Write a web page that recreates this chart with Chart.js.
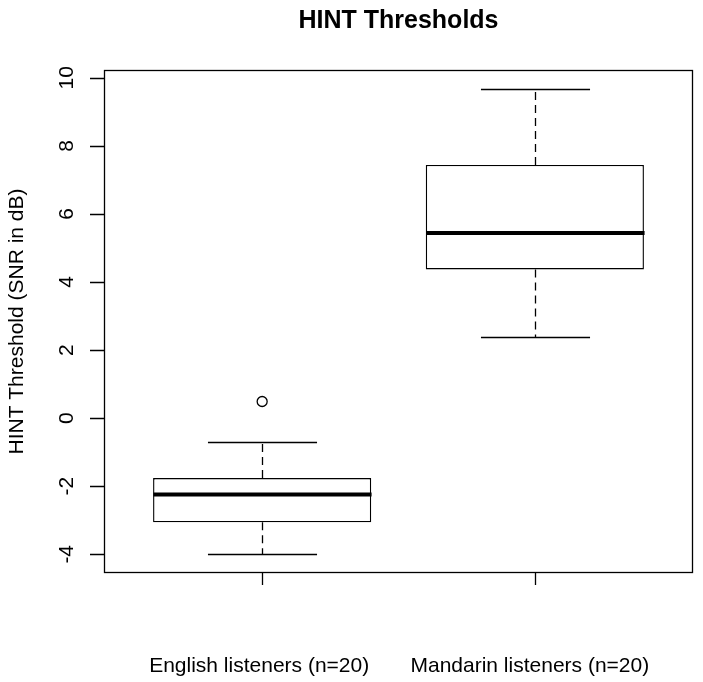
<!DOCTYPE html>
<html>
<head>
<meta charset="utf-8">
<title>HINT Thresholds</title>
<script src="https://cdn.jsdelivr.net/npm/chart.js@4/dist/chart.umd.min.js"></script>
<style>
  html, body { margin: 0; padding: 0; background: #fff; }
</style>
</head>
<body>
<canvas id="chart" width="703" height="682"></canvas>
<script>
// box statistics, one entry per group
const groups = ['English listeners (n=20)', 'Mandarin listeners (n=20)'];
const positions = [1, 2];
const whiskerLow = [-4.0, 2.38];
const q1 = [-3.06, 4.37];
const median = [-2.24, 5.44];
const q3 = [-1.76, 7.44];
const whiskerHigh = [-0.71, 9.68];
const outliers = [[0.49], []];
const yTicks = [-4, -2, 0, 2, 4, 6, 8, 10];

const FONT = '"Liberation Sans", Arial, Helvetica, sans-serif';

// R-style box plot pieces that Chart.js has no element for
const boxPlotR = {
  id: 'boxPlotR',
  afterDatasetsDraw(chart) {
    const { ctx, chartArea: a, scales: { x, y } } = chart;
    const halfBox = (x.getPixelForValue(1.4) - x.getPixelForValue(0.6)) / 2;
    const halfCap = halfBox / 2;
    ctx.save();
    ctx.strokeStyle = '#000';

    positions.forEach((p, i) => {
      const cx = Math.round(x.getPixelForValue(p)) + 0.5;
      // dashed whiskers
      ctx.lineWidth = 1.3;
      ctx.setLineDash([8, 5]);
      ctx.beginPath();
      ctx.moveTo(cx, y.getPixelForValue(q3[i]));
      ctx.lineTo(cx, y.getPixelForValue(whiskerHigh[i]));
      ctx.moveTo(cx, y.getPixelForValue(q1[i]));
      ctx.lineTo(cx, y.getPixelForValue(whiskerLow[i]));
      ctx.stroke();
      ctx.setLineDash([]);
      // staples
      ctx.beginPath();
      [whiskerHigh[i], whiskerLow[i]].forEach(v => {
        const py = Math.round(y.getPixelForValue(v)) + 0.5;
        ctx.moveTo(cx - halfCap, py);
        ctx.lineTo(cx + halfCap, py);
      });
      ctx.stroke();
      // median
      ctx.lineWidth = 4;
      ctx.beginPath();
      const my = y.getPixelForValue(median[i]);
      ctx.moveTo(cx - halfBox, my);
      ctx.lineTo(cx + halfBox, my);
      ctx.stroke();
    });

    // plot frame
    ctx.lineWidth = 1.3;
    ctx.strokeRect(a.left + 0.5, a.top + 0.5, a.right - a.left - 1, a.bottom - a.top - 1);

    // y axis ticks and labels
    ctx.font = '21px ' + FONT;
    ctx.fillStyle = '#000';
    ctx.beginPath();
    yTicks.forEach(t => {
      const py = Math.round(y.getPixelForValue(t)) + 0.5;
      ctx.moveTo(a.left, py);
      ctx.lineTo(a.left - 14, py);
    });
    ctx.stroke();
    ctx.textAlign = 'center';
    ctx.textBaseline = 'alphabetic';
    yTicks.forEach(t => {
      ctx.save();
      ctx.translate(73, y.getPixelForValue(t));
      ctx.rotate(-Math.PI / 2);
      ctx.fillText(String(t), 0, 0);
      ctx.restore();
    });

    // x axis ticks and group labels
    ctx.beginPath();
    positions.forEach(p => {
      const px = Math.round(x.getPixelForValue(p)) + 0.5;
      ctx.moveTo(px, a.bottom);
      ctx.lineTo(px, a.bottom + 12);
    });
    ctx.stroke();
    const labelShift = [-3, -5];
    positions.forEach((p, i) => {
      ctx.fillText(groups[i], x.getPixelForValue(p) + labelShift[i], 672);
    });

    // titles
    ctx.save();
    ctx.translate(23, (a.top + a.bottom) / 2);
    ctx.rotate(-Math.PI / 2);
    ctx.fillText('HINT Threshold (SNR in dB)', 0, 0);
    ctx.restore();
    ctx.font = 'bold 25px ' + FONT;
    ctx.fillText('HINT Thresholds', (a.left + a.right) / 2, 28);

    ctx.restore();
  }
};

const boxData = positions.map((p, i) => ({ x: p, y: [q1[i], q3[i]] }));
const outlierData = [];
positions.forEach((p, i) => outliers[i].forEach(v => outlierData.push({ x: p, y: v })));

new Chart(document.getElementById('chart'), {
  type: 'bar',
  data: {
    datasets: [
      {
        label: 'box',
        data: boxData,
        backgroundColor: '#fff',
        borderColor: '#000',
        borderWidth: 1.4,
        borderSkipped: false,
        categoryPercentage: 0.8,
        barPercentage: 1
      },
      {
        type: 'scatter',
        label: 'outliers',
        data: outlierData,
        pointStyle: 'circle',
        pointRadius: 5,
        backgroundColor: '#fff',
        borderColor: '#000',
        borderWidth: 1.3
      }
    ]
  },
  options: {
    responsive: false,
    animation: false,
    events: [],
    layout: { padding: { left: 104, right: 10, top: 70, bottom: 109 } },
    scales: {
      x: {
        type: 'linear', min: 0.42, max: 2.58, offset: false, display: false,
        ticks: { stepSize: 1, includeBounds: false }
      },
      y: { min: -4.55, max: 10.23, display: false }
    },
    plugins: {
      legend: { display: false },
      tooltip: { enabled: false }
    }
  },
  plugins: [boxPlotR]
});
</script>
</body>
</html>
